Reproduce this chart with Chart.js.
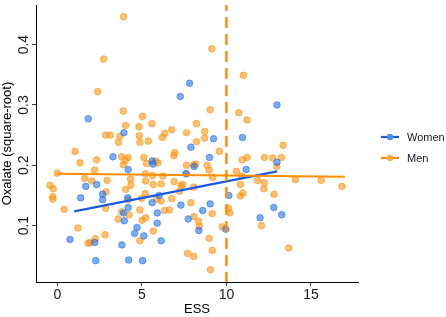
<!DOCTYPE html>
<html>
<head>
<meta charset="utf-8">
<script src="https://cdn.jsdelivr.net/npm/chart.js@4"></script>
<style>
  body { margin: 0; background: #fff; }
  #wrap { position: relative; width: 446px; height: 317px; }
  #legend { position: absolute; left: 381px; top: 126px; font: 11px "Liberation Sans", Arial, sans-serif; color: #1a1a1a; }
  .item { display: flex; align-items: center; height: 21px; }
  .item svg { margin-right: 8px; }
</style>
</head>
<body>
<div id="wrap">
  <canvas id="chart" width="446" height="317"></canvas>
  <div id="legend">
    <div class="item"><svg width="18" height="8"><line x1="0" y1="4" x2="18" y2="4" stroke="#1a5be6" stroke-width="2.2"/><circle cx="9" cy="4" r="3.2" fill="#4f8ff0"/></svg><span>Women</span></div>
    <div class="item"><svg width="18" height="8"><line x1="0" y1="4" x2="18" y2="4" stroke="#ff8c00" stroke-width="2.2"/><circle cx="9" cy="4" r="3.2" fill="#ffad45"/></svg><span>Men</span></div>
  </div>
</div>
<script>
const womenEss = [1.83, 3.94, 7.27, 7.82, 7.90, 9.24, 3.29, 9.00, 5.61, 5.65, 12.99, 10.95, 12.99, 11.17, 10.14, 9.04, 8.60, 9.96, 11.99, 12.80,
    13.27, 4.19, 1.38, 1.68, 2.33, 2.68, 2.68, 4.16, 4.19, 3.92, 3.96, 4.71, 4.57, 5.12, 5.61, 5.91, 5.91, 6.14, 7.31, 7.74,
    7.60, 8.37, 0.75, 2.21, 2.27, 3.82, 4.22, 5.04, 8.09, 6.02];
const womenOxalate = [0.277, 0.254, 0.314, 0.336, 0.230, 0.244, 0.214, 0.213, 0.207, 0.202, 0.300, 0.246, 0.205, 0.193, 0.150, 0.136, 0.125, 0.094, 0.113, 0.130,
    0.118, 0.193, 0.146, 0.165, 0.168, 0.152, 0.143, 0.146, 0.130, 0.121, 0.108, 0.097, 0.087, 0.083, 0.138, 0.121, 0.104, 0.075, 0.134, 0.111,
    0.186, 0.092, 0.077, 0.072, 0.042, 0.068, 0.043, 0.042, 0.198, 0.150];

const menEss = [3.92, 2.74, 2.39, 3.90, 4.04, 5.04, 5.59, 4.83, 2.86, 3.13, 3.70, 3.62, 4.85, 4.88, 5.38, 6.22, 6.36, 6.77, 7.64, 8.23,
    8.72, 8.71, 8.23, 9.04, 9.14, 9.59, 1.05, 2.33, 3.80, 4.19, 3.90, 4.02, 5.12, 6.89, 6.95,
    11.01, 10.73, 11.22, 13.35, 10.93, 11.22, 12.25, 12.74, 13.25,
    8.86, 8.98, 9.18, 10.59, 10.91, 11.84, 12.23, 12.21, 10.83, 10.97, 10.83, 12.82, 14.08, 15.60, 16.83, 12.98, 9.16, 10.12, 10.20, 9.75,
    8.98, 9.16, 9.06, 12.07, 13.69,
    1.34, 0.00, -0.43, -0.24, -0.27, -0.27, 0.40, 1.62, 2.03, 2.21, 2.95, 2.88, 2.86, 1.22, 1.83, 1.95, 2.25, 2.82,
    4.33, 4.35, 4.04, 4.19, 3.80, 3.60, 4.25,
    5.28, 5.81, 5.95, 5.22, 5.22, 5.67, 5.63, 5.20, 4.98, 4.88, 5.02, 5.22, 4.88, 5.67, 5.87, 6.24, 6.14, 6.34, 6.14, 6.62,
    6.91, 7.23, 7.31, 7.41, 6.77, 7.64, 7.64, 8.06, 8.19, 8.07, 7.90, 8.07, 8.35, 8.39, 7.70, 8.07];
const menOxalate = [0.446, 0.376, 0.322, 0.290, 0.266, 0.281, 0.269, 0.264, 0.250, 0.250, 0.248, 0.238, 0.249, 0.238, 0.240, 0.246, 0.253, 0.259, 0.254, 0.269,
    0.256, 0.245, 0.239, 0.292, 0.393, 0.223, 0.223, 0.209, 0.214, 0.213, 0.201, 0.208, 0.213, 0.216, 0.221,
    0.349, 0.287, 0.275, 0.233, 0.209, 0.213, 0.213, 0.212, 0.213,
    0.200, 0.192, 0.180, 0.190, 0.182, 0.175, 0.171, 0.161, 0.168, 0.154, 0.149, 0.152, 0.176, 0.175, 0.165, 0.198, 0.120, 0.129, 0.121, 0.098,
    0.079, 0.059, 0.027, 0.100, 0.063,
    0.204, 0.187, 0.167, 0.161, 0.148, 0.144, 0.127, 0.178, 0.174, 0.192, 0.175, 0.156, 0.129, 0.096, 0.071, 0.072, 0.078, 0.085,
    0.177, 0.167, 0.160, 0.143, 0.123, 0.111, 0.118,
    0.203, 0.207, 0.204, 0.186, 0.174, 0.168, 0.183, 0.153, 0.145, 0.126, 0.109, 0.113, 0.075, 0.091, 0.144, 0.182, 0.169, 0.125, 0.141, 0.126,
    0.173, 0.157, 0.166, 0.168, 0.145, 0.200, 0.186, 0.201, 0.202, 0.164, 0.138, 0.115, 0.107, 0.099, 0.054, 0.049];

// fitted lines (end points)
const womenFitEss = [1, 13];
const womenFitOxalate = [0.1235, 0.190];
const menFitEss = [0, 17];
const menFitOxalate = [0.186, 0.181];

const essCutoff = 10;
const xTicks = [0, 5, 10, 15];
const yTicks = [0.1, 0.2, 0.3, 0.4];
const xRange = [-1.26, 17.78];
const yRange = [0.0066, 0.4656];

const font = '"Liberation Sans", Arial, sans-serif';
const blue = '#1a5be6';
const orange = '#ff8c00';

const toPoints = (xs, ys) => xs.map((x, i) => ({x: x, y: ys[i]}));

const yTickLabels = {
    id: 'yTickLabels',
    afterDraw(chart) {
        const ctx = chart.ctx;
        const scale = chart.scales.y;
        ctx.save();
        ctx.fillStyle = '#1a1a1a';
        ctx.font = '14px ' + font;
        ctx.textAlign = 'center';
        ctx.textBaseline = 'middle';
        yTicks.forEach(v => {
            ctx.save();
            ctx.translate(24, scale.getPixelForValue(v));
            ctx.rotate(-Math.PI / 2);
            ctx.fillText(v.toFixed(1), 0, 0);
            ctx.restore();
        });
        ctx.restore();
    }
};

new Chart(document.getElementById('chart'), {
    type: 'scatter',
    data: {
        datasets: [
            {
                type: 'line',
                label: 'cutoff',
                data: [{x: essCutoff, y: yRange[0]}, {x: essCutoff, y: yRange[1]}],
                borderColor: orange,
                borderWidth: 2.4,
                borderDash: [9, 8],
                borderCapStyle: 'round',
                pointRadius: 0,
                order: 0
            },
            {
                type: 'line',
                label: 'Men fit',
                data: toPoints(menFitEss, menFitOxalate),
                borderColor: orange,
                borderWidth: 2.2,
                pointRadius: 0,
                order: 1
            },
            {
                type: 'line',
                label: 'Women fit',
                data: toPoints(womenFitEss, womenFitOxalate),
                borderColor: blue,
                borderWidth: 2.2,
                pointRadius: 0,
                order: 2
            },
            {
                label: 'Women',
                data: toPoints(womenEss, womenOxalate),
                backgroundColor: 'rgba(30,110,240,0.58)',
                borderColor: 'rgba(30,110,240,0.58)',
                borderWidth: 1,
                pointRadius: 3.3,
                order: 3
            },
            {
                label: 'Men',
                data: toPoints(menEss, menOxalate),
                backgroundColor: 'rgba(255,145,10,0.58)',
                borderColor: 'rgba(255,145,10,0.58)',
                borderWidth: 1,
                pointRadius: 3.3,
                order: 4
            }
        ]
    },
    options: {
        responsive: false,
        animation: false,
        layout: {padding: {left: 0, top: 2, right: 88, bottom: 0}},
        plugins: {
            legend: {display: false},
            tooltip: {enabled: false}
        },
        scales: {
            x: {
                type: 'linear',
                min: xRange[0],
                max: xRange[1],
                afterBuildTicks: scale => { scale.ticks = xTicks.map(v => ({value: v})); },
                afterFit: scale => { scale.height = 35; },
                grid: {drawOnChartArea: false, drawTicks: true, tickLength: 4, color: '#333'},
                border: {display: true, color: '#000', width: 1},
                ticks: {color: '#1a1a1a', font: {family: font, size: 14}, padding: 1, maxRotation: 0},
                title: {display: true, text: 'ESS', color: '#000', font: {family: font, size: 13}, padding: 0}
            },
            y: {
                type: 'linear',
                min: yRange[0],
                max: yRange[1],
                afterBuildTicks: scale => { scale.ticks = yTicks.map(v => ({value: v})); },
                afterFit: scale => { scale.width = 36; },
                grid: {drawOnChartArea: false, drawTicks: true, tickLength: 4, color: '#333'},
                border: {display: true, color: '#000', width: 1},
                ticks: {display: false},
                title: {display: true, text: 'Oxalate (square-root)', color: '#000', font: {family: font, size: 13}, padding: 0}
            }
        }
    },
    plugins: [yTickLabels]
});
</script>
</body>
</html>
